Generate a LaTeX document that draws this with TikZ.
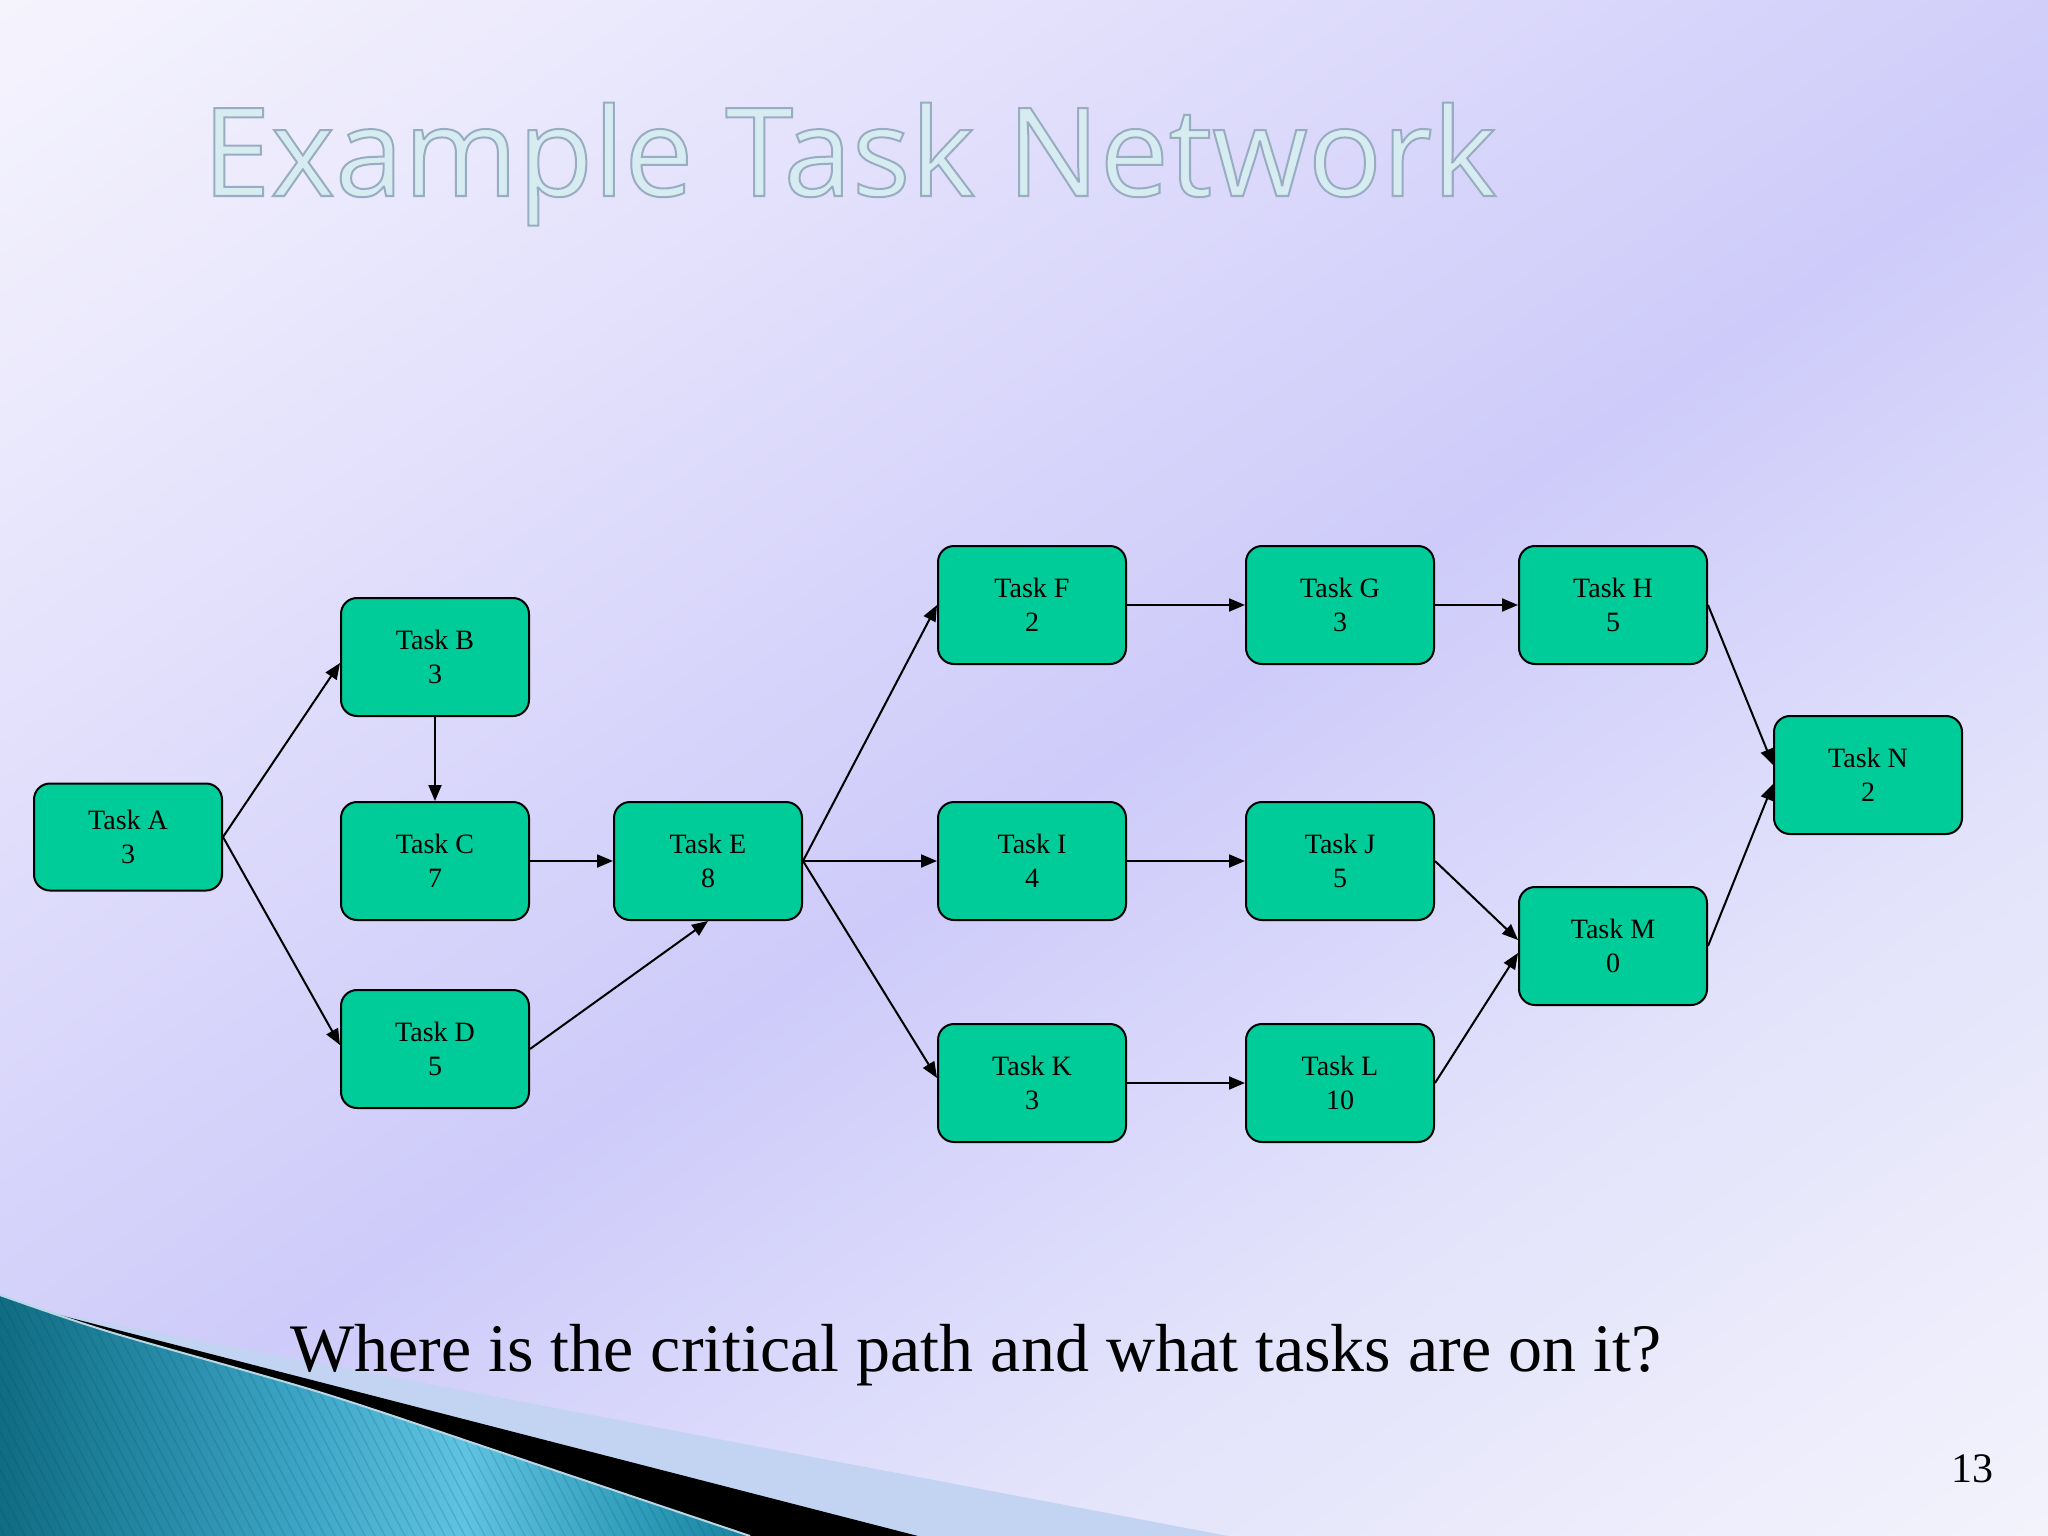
\documentclass[tikz,border=0pt]{standalone}
\usepackage{fontspec}
\setmainfont{Liberation Serif}
\newfontfamily\titlefam{Open Sans}
\usetikzlibrary{arrows.meta}
\definecolor{taskgreen}{RGB}{0,204,153}
\definecolor{bgA}{RGB}{245,244,253}
\definecolor{bgB}{RGB}{234,232,252}
\definecolor{bgC}{RGB}{206,203,250}
\definecolor{bgD}{RGB}{226,226,251}
\definecolor{bgE}{RGB}{243,243,252}
\definecolor{tealA}{RGB}{15,108,130}
\definecolor{tealB}{RGB}{60,165,198}
\definecolor{tealC}{RGB}{95,195,225}
\definecolor{tealD}{RGB}{45,155,185}
\definecolor{tealE}{RGB}{25,130,160}
\definecolor{lightband}{RGB}{194,212,242}
\definecolor{titlefill}{RGB}{214,236,240}
\pgfdeclarehorizontalshading{bgshade}{100bp}{color(0bp)=(bgA); color(25bp)=(bgA); color(33bp)=(bgB); color(51bp)=(bgC); color(62bp)=(bgD); color(75bp)=(bgE); color(100bp)=(bgE)}
\pgfdeclarehorizontalshading{tealshade}{100bp}{color(0bp)=(tealA); color(25bp)=(tealA); color(45bp)=(tealB); color(56bp)=(tealC); color(68bp)=(tealD); color(75bp)=(tealE); color(100bp)=(tealE)}
\tikzset{
  task/.style={draw=black, line width=2pt, fill=taskgreen, rounded corners=16pt,
    minimum width=188pt, minimum height=118pt, align=center, inner sep=0pt,
    font=\fontsize{28}{34}\selectfont},
  conn/.style={line width=2pt, -{Triangle[length=16pt,width=13pt]}}
}
\begin{document}
\begin{tikzpicture}[x=1pt,y=-1pt]
\useasboundingbox (0,0) rectangle (2048,1536);
\begin{scope}
\clip (0,0) rectangle (2048,1536);
\shade[shading=bgshade, transform canvas={rotate=-55.6}] (0,-3000) rectangle (2424,3000);
% bottom-left decoration
\fill[lightband] (40,1310) -- (1228,1536) -- (900,1536) -- cycle;
\fill[black] (40,1310) -- (918,1536) -- (500,1536) -- (300,1400) -- cycle;
\shade[shading=tealshade] plot[smooth, tension=0.5] coordinates {(0,1295) (110,1332) (319,1392) (500,1452) (750,1536)} -- (0,1536) -- cycle;
\begin{scope}
\clip plot[smooth, tension=0.5] coordinates {(0,1295) (110,1332) (319,1392) (500,1452) (750,1536)} -- (0,1536) -- cycle;
\foreach \i in {-300,-290,...,800} \draw[color={rgb,255:red,10;green,70;blue,95}, opacity=0.18, line width=1.2pt] (\i,1280) -- (\i+135,1536);
\end{scope}
\draw[color={rgb,255:red,185;green,215;blue,228}, line width=2pt] plot[smooth, tension=0.5] coordinates {(0,1295) (110,1332) (319,1392) (500,1452) (750,1536)};
\end{scope}
% title
\node[anchor=base west, inner sep=0pt, font=\titlefam\fontsize{123}{140}\selectfont, text=titlefill] (title) at (202,196) {\special{pdf:literal direct 2 Tr 2 w 0.60 0.68 0.76 RG}Example Task Network\special{pdf:literal direct 0 Tr}};
% nodes
\node[task, minimum height=107pt] (A) at (128,837) {Task A\\3};
\node[task] (B) at (435,657) {Task B\\3};
\node[task] (C) at (435,861) {Task C\\7};
\node[task] (D) at (435,1049) {Task D\\5};
\node[task] (E) at (708,861) {Task E\\8};
\node[task] (F) at (1032,605) {Task F\\2};
\node[task] (G) at (1340,605) {Task G\\3};
\node[task] (H) at (1613,605) {Task H\\5};
\node[task] (I) at (1032,861) {Task I\\4};
\node[task] (J) at (1340,861) {Task J\\5};
\node[task] (K) at (1032,1083) {Task K\\3};
\node[task] (L) at (1340,1083) {Task L\\10};
\node[task] (M) at (1613,946) {Task M\\0};
\node[task] (N) at (1868,775) {Task N\\2};
% connectors
\draw[conn] (A.east) -- ([yshift=-6pt]B.west);
\draw[conn] (A.east) -- ([yshift=4pt]D.west);
\draw[conn] (B.south) -- (C.north);
\draw[conn] (C.east) -- (E.west);
\draw[conn] (D.east) -- (E.south);
\draw[conn] (E.east) -- (F.west);
\draw[conn] (E.east) -- (I.west);
\draw[conn] (E.east) -- ([yshift=5pt]K.west);
\draw[conn] (F.east) -- (G.west);
\draw[conn] (G.east) -- (H.west);
\draw[conn] (I.east) -- (J.west);
\draw[conn] (K.east) -- (L.west);
\draw[conn] (J.east) -- ([yshift=6pt]M.west);
\draw[conn] (L.east) -- ([yshift=-7pt]M.west);
\draw[conn] (H.east) -- ([yshift=10pt]N.west);
\draw[conn] (M.east) -- ([yshift=-9pt]N.west);
% texts
\node[anchor=base west, inner sep=0pt, font=\fontsize{68}{80}\selectfont] (question) at (290,1371) {Where is the critical path and what tasks are on it?};
\node[anchor=base, inner sep=0pt, font=\fontsize{42}{50}\selectfont] (pagenum) at (1972,1482) {13};
\end{tikzpicture}
\end{document}
